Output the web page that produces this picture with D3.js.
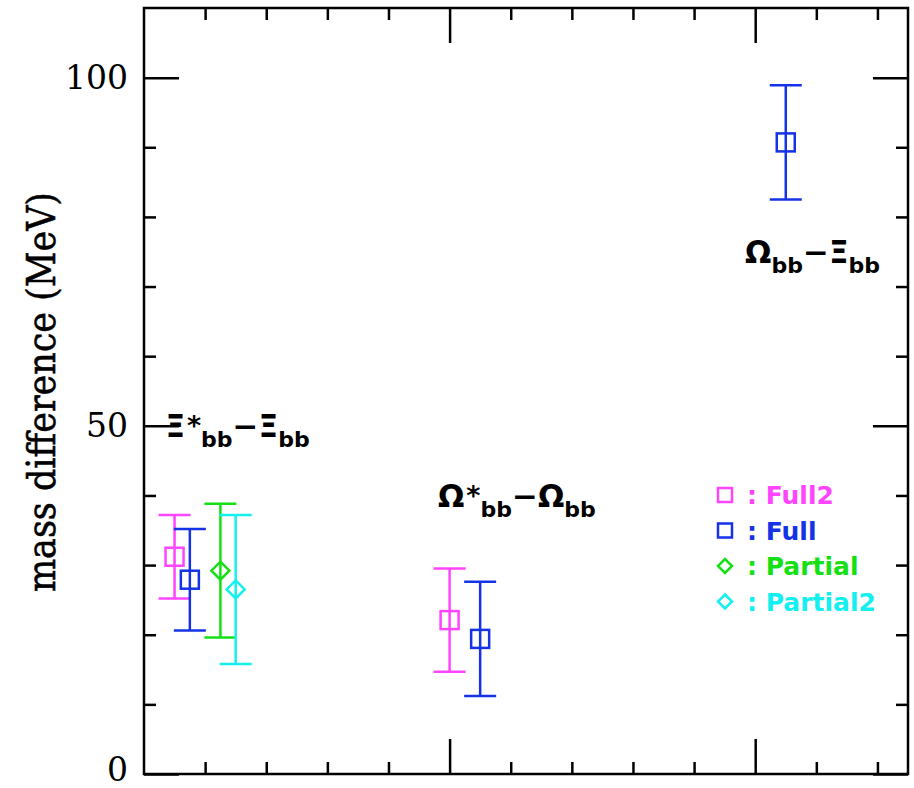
<!DOCTYPE html>
<html>
<head>
<meta charset="utf-8">
<script src="https://cdn.jsdelivr.net/npm/d3@7"></script>
<style>
  body { margin: 0; background: #fff; }
</style>
</head>
<body>
<div id="chart"></div>
<script>
// lattice data: mass splittings of doubly bottom baryons (MeV)
const seriesNames = ["Full2", "Full", "Partial", "Partial2"];
const seriesColors = ["#ff44ff", "#1432e6", "#14e014", "#14f0f0"];
const seriesShapes = ["square", "square", "diamond", "diamond"];

// x is only a placement coordinate, values and errors in MeV
const full2X = [0.10, 1.00];
const full2Val = [31.2, 22.1];
const full2Err = [6.0, 7.4];

const fullX = [0.15, 1.10, 2.10];
const fullVal = [27.9, 19.4, 90.7];
const fullErr = [7.3, 8.2, 8.2];

const partialX = [0.25];
const partialVal = [29.2];
const partialErr = [9.6];

const partial2X = [0.30];
const partial2Val = [26.5];
const partial2Err = [10.7];

const yMajorTicks = [0, 50, 100];
const yMinorTicks = [10, 20, 30, 40, 60, 70, 80, 90];
const xMajorTicks = [1.0, 2.0];
const xMinorTicks = [0.2, 0.4, 0.6, 0.8, 1.2, 1.4, 1.6, 1.8, 2.2, 2.4];

// build one table for drawing
const seriesX = [full2X, fullX, partialX, partial2X];
const seriesVal = [full2Val, fullVal, partialVal, partial2Val];
const seriesErr = [full2Err, fullErr, partialErr, partial2Err];
const points = [];
seriesNames.forEach((name, i) => {
    seriesX[i].forEach((xv, j) => {
        points.push({ name: name, color: seriesColors[i], shape: seriesShapes[i],
                      x: xv, v: seriesVal[i][j], e: seriesErr[i][j] });
    });
});

const width = 914, height = 788;
const svg = d3.select("#chart")
    .append("svg")
    .attr("width", width)
    .attr("height", height);

const x = d3.scaleLinear().domain([0, 2.5]).range([144, 908]);
const y = d3.scaleLinear().domain([0, 110]).range([774, 8]);

const minorLen = 12, majorLen = 35;
const tickStroke = 2.5;

function styleAxis(g) {
    g.select(".domain").remove();
    g.selectAll(".tick line").attr("stroke", "#000").attr("stroke-width", tickStroke);
}

// bottom + top ticks (pointing inward)
[[d3.axisBottom, y(0)], [d3.axisTop, y(110)]].forEach(([ax, ty]) => {
    svg.append("g").attr("transform", `translate(0,${ty})`)
        .call(ax(x).tickValues(xMinorTicks).tickSize(-minorLen).tickFormat(""))
        .call(styleAxis);
    svg.append("g").attr("transform", `translate(0,${ty})`)
        .call(ax(x).tickValues(xMajorTicks).tickSize(-majorLen).tickFormat(""))
        .call(styleAxis);
});

// right ticks
svg.append("g").attr("transform", `translate(${x(2.5)},0)`)
    .call(d3.axisRight(y).tickValues(yMinorTicks).tickSize(-minorLen).tickFormat(""))
    .call(styleAxis);
svg.append("g").attr("transform", `translate(${x(2.5)},0)`)
    .call(d3.axisRight(y).tickValues(yMajorTicks).tickSize(-majorLen).tickFormat(""))
    .call(styleAxis);

// left ticks with labels
svg.append("g").attr("transform", `translate(${x(0)},0)`)
    .call(d3.axisLeft(y).tickValues(yMinorTicks).tickSize(-minorLen).tickFormat(""))
    .call(styleAxis);
svg.append("g").attr("transform", `translate(${x(0)},0)`)
    .call(d3.axisLeft(y).tickValues(yMajorTicks).tickSize(-majorLen).tickPadding(16).tickFormat(d3.format("d")))
    .call(styleAxis)
    .call(g => g.selectAll("text")
        .attr("fill", "#000")
        .attr("dy", d => d === 0 ? "0.2em" : "0.32em")
        .style("font-family", "'DejaVu Serif', serif")
        .style("font-size", "33px"));

// frame
svg.append("rect")
    .attr("x", x(0)).attr("y", y(110))
    .attr("width", x(2.5) - x(0)).attr("height", y(0) - y(110))
    .attr("fill", "none").attr("stroke", "#000").attr("stroke-width", 2.5);

// y axis title
svg.append("text")
    .attr("transform", `translate(55,${(y(0) + y(110)) / 2 + 1}) rotate(-90)`)
    .attr("text-anchor", "middle")
    .attr("textLength", 400)
    .attr("lengthAdjust", "spacingAndGlyphs")
    .attr("stroke", "#000").attr("stroke-width", 0.6)
    .style("font-family", "'DejaVu Serif', serif")
    .style("font-size", "40px")
    .text("mass difference (MeV)");

// error bars
const capHalf = 16, boxHalf = 9, lw = 2.5;
const marks = svg.append("g");
points.forEach(p => {
    const g = marks.append("g").attr("stroke", p.color).attr("stroke-width", lw).attr("fill", "none");
    const cx = x(p.x), top = y(p.v + p.e), bot = y(p.v - p.e);
    g.append("line").attr("x1", cx).attr("x2", cx).attr("y1", top).attr("y2", bot);
    g.append("line").attr("x1", cx - capHalf).attr("x2", cx + capHalf).attr("y1", top).attr("y2", top);
    g.append("line").attr("x1", cx - capHalf).attr("x2", cx + capHalf).attr("y1", bot).attr("y2", bot);
    drawMarker(g, p.shape, cx, y(p.v), boxHalf);
});

function drawMarker(g, shape, cx, cy, h) {
    if (shape === "square") {
        g.append("rect").attr("x", cx - h).attr("y", cy - h)
            .attr("width", 2 * h).attr("height", 2 * h);
    } else {
        g.append("path").attr("d",
            `M${cx},${cy - h}L${cx + h},${cy}L${cx},${cy + h}L${cx - h},${cy}Z`);
    }
}

// legend
const legend = svg.append("g");
seriesNames.forEach((name, i) => {
    const cy = 495 + i * 35.5;
    const g = legend.append("g").attr("stroke", seriesColors[i]).attr("stroke-width", 2.5).attr("fill", "none");
    drawMarker(g, seriesShapes[i], 725, cy, 7);
    legend.append("text")
        .attr("x", 747).attr("y", cy + 9)
        .attr("fill", seriesColors[i])
        .style("font-family", "'DejaVu Sans', sans-serif")
        .style("font-weight", "bold")
        .style("font-size", "25px")
        .text(": " + name);
});

// annotations: [x, y (data units), parts]
const annotations = [
    [0.07, 48.4, [["Ξ", "m"], ["*", "sup"], ["bb", "sub"], ["−", "m"], ["Ξ", "m"], ["bb", "sub"]]],
    [0.962, 38.4, [["Ω", "m"], ["*", "sup"], ["bb", "sub"], ["−", "m"], ["Ω", "m"], ["bb", "sub"]]],
    [1.967, 73.4, [["Ω", "m"], ["bb", "sub"], ["−", "m"], ["Ξ", "m"], ["bb", "sub"]]]
];
const shift = { m: 0, sup: -2, sub: 10 };
const fsize = { m: 31, sup: 27, sub: 22 };
annotations.forEach(([ax, ay, parts]) => {
    const t = svg.append("text")
        .attr("x", x(ax)).attr("y", y(ay))
        .attr("fill", "#000")
        .style("font-family", "'DejaVu Sans', sans-serif")
        .style("font-weight", "bold");
    let cur = 0;
    parts.forEach(([s, k]) => {
        t.append("tspan")
            .attr("dy", shift[k] - cur)
            .attr("dx", k === "sup" ? 2 : 0)
            .style("font-size", fsize[k] + "px")
            .text(s);
        cur = shift[k];
    });
});
</script>
</body>
</html>
